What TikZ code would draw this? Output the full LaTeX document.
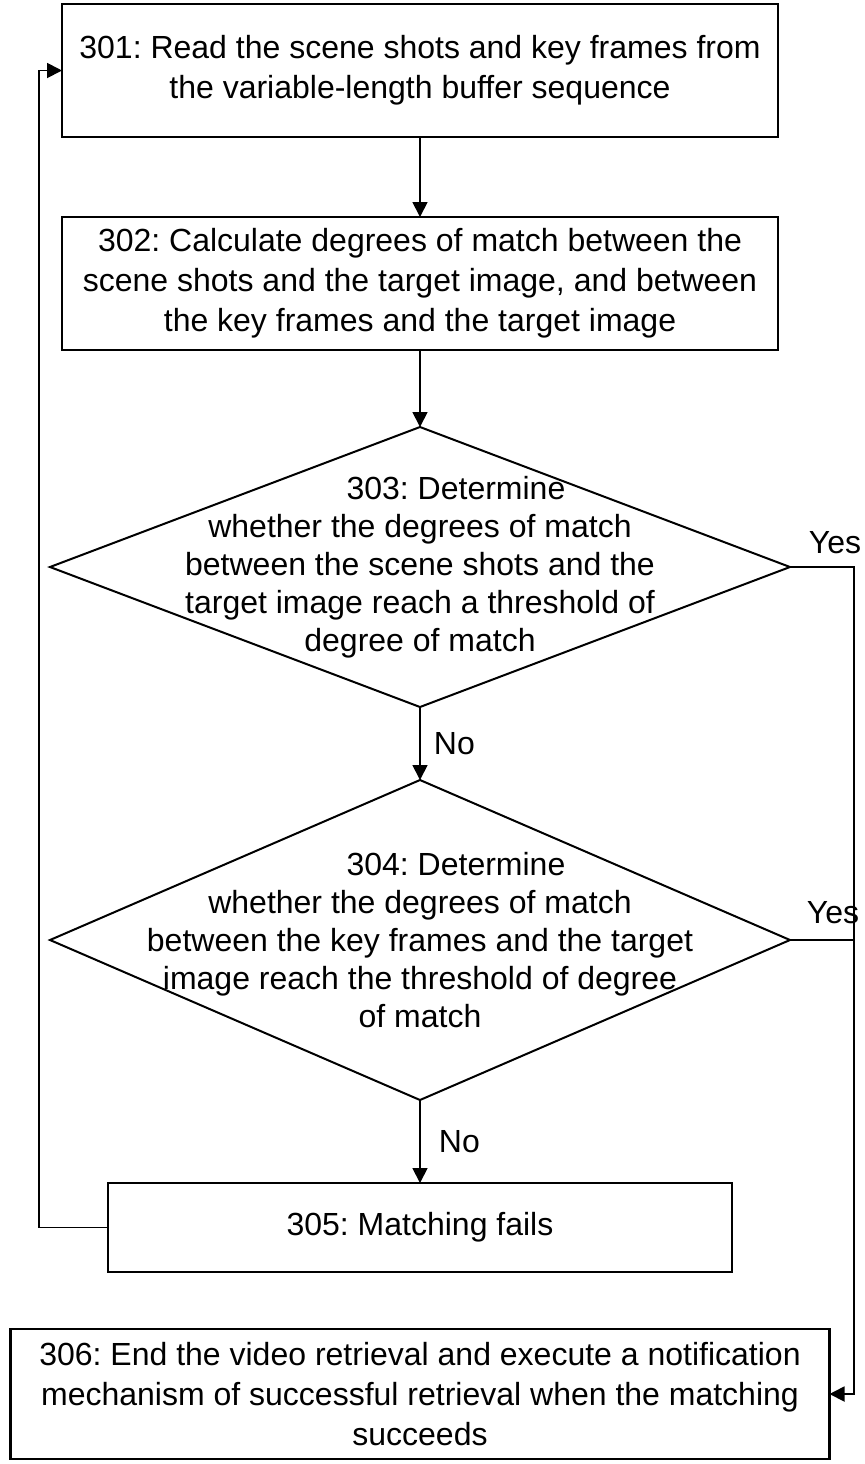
\documentclass[tikz,border=0pt]{standalone}
\usepackage{fontspec}
\setmainfont{Liberation Sans}
\frenchspacing
\usetikzlibrary{shapes.geometric, calc, positioning, arrows.meta}

\begin{document}
\begin{tikzpicture}[
  stepbox/.style={draw, line width=1.2pt, minimum width=358pt, minimum height=66.5pt, align=center, font=\fontsize{16}{20}\selectfont, inner sep=0pt, outer sep=0pt},
  dec/.style={draw, diamond, line width=1pt, minimum width=370pt, inner sep=0pt, outer sep=0pt},
  dtext/.style={align=center, font=\fontsize{16}{19}\selectfont, inner sep=0pt},
  lbl/.style={font=\fontsize{16}{18}\selectfont, inner sep=0pt},
  >={Triangle[length=7.5pt,width=7.5pt]}, line width=0.9pt]
  \useasboundingbox (0,0) rectangle (432pt,-732pt);

  \node[stepbox] (b301) at (210pt,-35.25pt) {301: Read the scene shots and key frames from\\the variable-length buffer sequence};
  \node[stepbox, below=40pt of b301] (b302) {302: Calculate degrees of match between the\\scene shots and the target image, and between\\the key frames and the target image};
  \node[dec, minimum height=140pt, below=38.5pt of b302] (d303) {};
  \node[dtext] (t303) at (d303.center) {\hspace*{36pt}303: Determine\\whether the degrees of match\\between the scene shots and the\\target image reach a threshold of\\degree of match};
  \node[dec, minimum height=160pt, below=36.5pt of d303] (d304) {};
  \node[dtext] (t304) at (d304.center) {\hspace*{36pt}304: Determine\\whether the degrees of match\\between the key frames and the target\\image reach the threshold of degree\\of match};
  \node[stepbox, minimum width=312pt, minimum height=44.5pt, below=41.5pt of d304] (b305) {305: Matching fails};
  \node[stepbox, minimum width=409.5pt, minimum height=65pt, below=28.5pt of b305] (b306) {306: End the video retrieval and execute a notification\\mechanism of successful retrieval when the matching\\succeeds};

  \draw[->] (b301.south) -- (b302.north);
  \draw[->] (b302.south) -- (d303.north);
  \draw[->] (d303.south) -- node[lbl, right=6.5pt] {No} (d304.north);
  \draw[->] (d304.south) -- node[lbl, right=9pt] {No} (b305.north);

  % back to the start when matching fails
  \draw[->] (b305.west) -- ++(-34.5pt,0) |- (b301.west);

  % either match reaches the threshold
  \coordinate (yesx) at ($(d303.east)+(32pt,0)$);
  \draw[->] (d303.east) -- (yesx) |- (b306.east);
  \draw (d304.east) -- (d304.east -| yesx);
  \node[lbl, anchor=base west] (y303) at ($(d303.east)+(9pt,7pt)$) {Yes};
  \node[lbl, anchor=base west] (y304) at ($(d304.east)+(8pt,8.5pt)$) {Yes};
\end{tikzpicture}
\end{document}
